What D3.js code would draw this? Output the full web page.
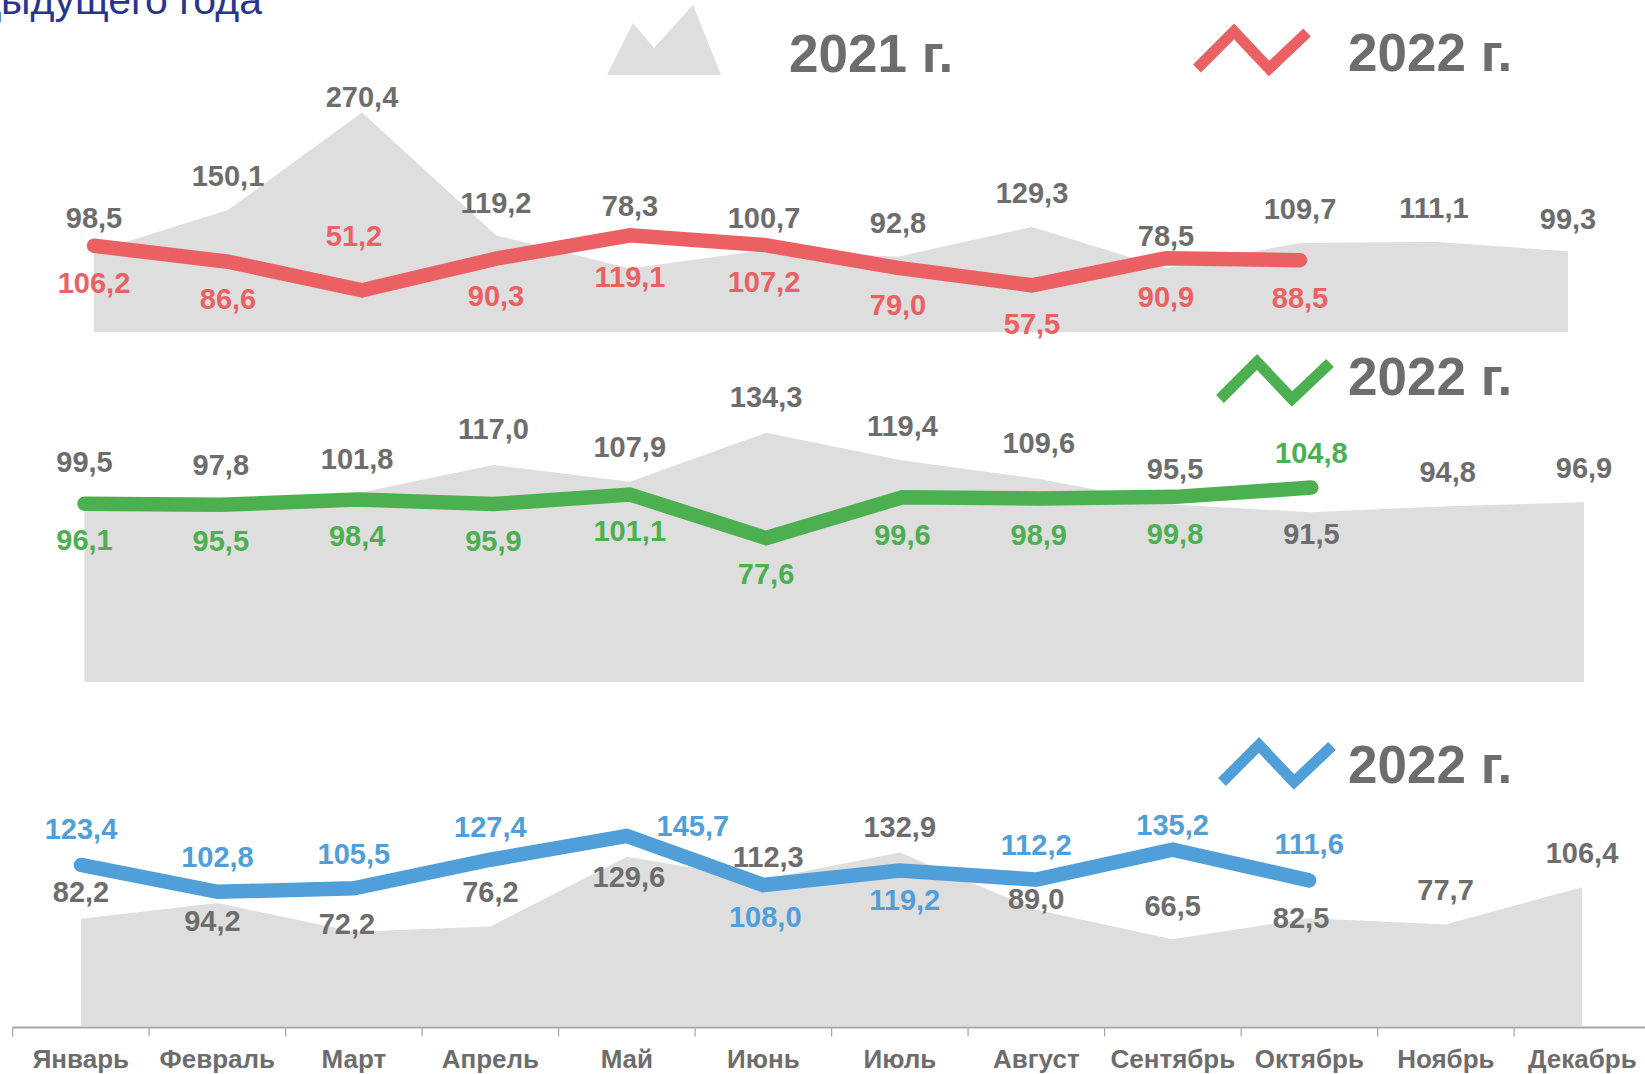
<!DOCTYPE html>
<html>
<head>
<meta charset="utf-8">
<script src="https://cdn.jsdelivr.net/npm/d3@7"></script>
<style>
  body { margin: 0; background: #fff; }
  svg { display: block; font-family: "Liberation Sans", Arial, sans-serif; }
</style>
</head>
<body>
<svg id="chart" width="1645" height="1074"></svg>
<script>
// data ---------------------------------------------------------------------------------
const months = ['Январь', 'Февраль', 'Март', 'Апрель', 'Май', 'Июнь', 'Июль', 'Август', 'Сентябрь', 'Октябрь', 'Ноябрь', 'Декабрь'];
const prevTop = [98.5, 150.1, 270.4, 119.2, 78.3, 100.7, 92.8, 129.3, 78.5, 109.7, 111.1, 99.3];
const curTop = [106.2, 86.6, 51.2, 90.3, 119.1, 107.2, 79.0, 57.5, 90.9, 88.5];
const prevMid = [99.5, 97.8, 101.8, 117.0, 107.9, 134.3, 119.4, 109.6, 95.5, 91.5, 94.8, 96.9];
const curMid = [96.1, 95.5, 98.4, 95.9, 101.1, 77.6, 99.6, 98.9, 99.8, 104.8];
const prevBot = [82.2, 94.2, 72.2, 76.2, 129.6, 112.3, 132.9, 89.0, 66.5, 82.5, 77.7, 106.4];
const curBot = [123.4, 102.8, 105.5, 127.4, 145.7, 108.0, 119.2, 112.2, 135.2, 111.6];
const years = ['2021 г.', '2022 г.'];
const titleText = 'в % к соответствующему месяцу предыдущего года';

// label placement (dx, dy from the point) -------------------------------------------------
const prevTopOff = [[0,-34],[0,-35],[0,-16],[0,-33],[0,-63],[0,-33],[0,-34],[0,-34],[0,-33],[0,-34],[0,-34],[0,-33]];
const curTopOff = [[0,37],[0,37],[-8,-55],[0,37],[0,41],[0,37],[0,37],[0,38],[0,38],[0,37]];
const prevMidOff = [[0,-36],[0,-36],[0,-35],[0,-36],[0,-35],[0,-36],[0,-35],[0,-36],[0,-36],[0,21],[0,-35],[0,-35]];
const curMidOff = [[0,36],[0,36],[0,36],[0,36],[0,36],[0,36],[0,37],[0,36],[0,37],[0,-35]];
const prevBotOff = [[0,-27],[-5,17],[-7,-8],[0,-35],[2,20],[5,-23],[0,-26],[0,-11],[0,-34],[-8,-1],[0,-35],[0,-35]];
const curBotOff = [[0,-36],[0,-35],[0,-35],[0,-33],[66,-10],[2,31],[5,29],[0,-35],[0,-25],[0,-37]];

const GREY_AREA = '#dedede';
const GREY_TEXT = '#6d6d6d';

const panels = [
  {prev: prevTop, cur: curTop, prevOff: prevTopOff, curOff: curTopOff, color: '#eb6063',
   x0: 94, x1: 1568, zero: 332, k: 0.812, icon: [1197, 31.5], yearY: 71},
  {prev: prevMid, cur: curMid, prevOff: prevMidOff, curOff: curMidOff, color: '#4caf50',
   x0: 84.5, x1: 1584, zero: 682, k: 1.855, icon: [1220, 362], yearY: 395},
  {prev: prevBot, cur: curBot, prevOff: prevBotOff, curOff: curBotOff, color: '#509fd8',
   x0: 81, x1: 1582, zero: 1026, k: 1.305, icon: [1222, 745], yearY: 783}
];

const fmt = v => v.toFixed(1).replace('.', ',');

const svg = d3.select('#chart');

// title (cut at the top-left edge, as in the source slide) -------------------------------
svg.append('text')
  .attr('x', 262).attr('y', 14)
  .attr('text-anchor', 'end')
  .attr('font-size', 41)
  .attr('fill', '#27358f')
  .text(titleText);

// panels ---------------------------------------------------------------------------------
const labelLayer = [];
panels.forEach((p, pi) => {
  const x = d3.scalePoint().domain(months).range([p.x0, p.x1]);
  const y = d3.scaleLinear().domain([0, 100]).range([p.zero, p.zero - 100 * p.k]);
  const g = svg.append('g').attr('class', 'panel-' + pi);

  const area = d3.area()
    .x((d, i) => x(months[i]))
    .y0(y(0))
    .y1(d => y(d));
  g.append('path')
    .datum(p.prev)
    .attr('d', area)
    .attr('fill', GREY_AREA);

  const line = d3.line()
    .x((d, i) => x(months[i]))
    .y(d => y(d));
  g.append('path')
    .datum(p.cur)
    .attr('d', line)
    .attr('fill', 'none')
    .attr('stroke', p.color)
    .attr('stroke-width', 14.5)
    .attr('stroke-linecap', 'round')
    .attr('stroke-linejoin', 'miter');

  labelLayer.push({x, y, p});
});

// data labels on top ------------------------------------------------------------------
labelLayer.forEach(({x, y, p}) => {
  const g = svg.append('g')
    .attr('font-size', 29)
    .attr('font-weight', 'bold')
    .attr('text-anchor', 'middle');
  g.selectAll('.lbl-prev')
    .data(p.prev)
    .enter()
    .append('text')
    .attr('x', (d, i) => x(months[i]) + p.prevOff[i][0])
    .attr('y', (d, i) => y(d) + p.prevOff[i][1])
    .attr('dy', '0.36em')
    .attr('fill', GREY_TEXT)
    .text(fmt);
  g.selectAll('.lbl-cur')
    .data(p.cur)
    .enter()
    .append('text')
    .attr('x', (d, i) => x(months[i]) + p.curOff[i][0])
    .attr('y', (d, i) => y(d) + p.curOff[i][1])
    .attr('dy', '0.36em')
    .attr('fill', p.color)
    .text(fmt);
});

// legends ---------------------------------------------------------------------------------
const zig = [[0, 37], [37, 0], [72, 37], [110, 1]];
panels.forEach(p => {
  svg.append('path')
    .attr('d', d3.line()(zig.map(([a, b]) => [a + p.icon[0], b + p.icon[1]])))
    .attr('fill', 'none')
    .attr('stroke', p.color)
    .attr('stroke-width', 11)
    .attr('stroke-linejoin', 'miter');
  svg.append('text')
    .attr('x', 1348).attr('y', p.yearY)
    .attr('font-size', 53)
    .attr('font-weight', 'bold')
    .attr('fill', GREY_TEXT)
    .text(years[1]);
});
svg.append('path')
  .attr('d', d3.line()([[607, 75], [633, 23], [654, 48], [693, 5], [721, 75]]) + 'Z')
  .attr('fill', GREY_AREA);
svg.append('text')
  .attr('x', 789).attr('y', 72)
  .attr('font-size', 53)
  .attr('font-weight', 'bold')
  .attr('fill', GREY_TEXT)
  .text(years[0]);

// category axis ------------------------------------------------------------------------------
const xBand = d3.scaleBand().domain(months).range([12.6, 12.6 + 12 * 136.5]);
const axisY = 1027.5;
const ax = svg.append('g');
ax.append('line')
  .attr('x1', 12.6).attr('x2', 1645)
  .attr('y1', axisY).attr('y2', axisY)
  .attr('stroke', '#a6a6a6')
  .attr('stroke-width', 2);
ax.selectAll('.tick')
  .data(months)
  .enter()
  .append('line')
  .attr('x1', d => xBand(d)).attr('x2', d => xBand(d))
  .attr('y1', axisY).attr('y2', axisY + 9)
  .attr('stroke', '#a6a6a6')
  .attr('stroke-width', 1.2);
ax.selectAll('.month')
  .data(months)
  .enter()
  .append('text')
  .attr('x', d => xBand(d) + xBand.bandwidth() / 2)
  .attr('y', 1068)
  .attr('text-anchor', 'middle')
  .attr('font-size', 26)
  .attr('font-weight', 'bold')
  .attr('fill', GREY_TEXT)
  .text(d => d);
</script>
</body>
</html>
